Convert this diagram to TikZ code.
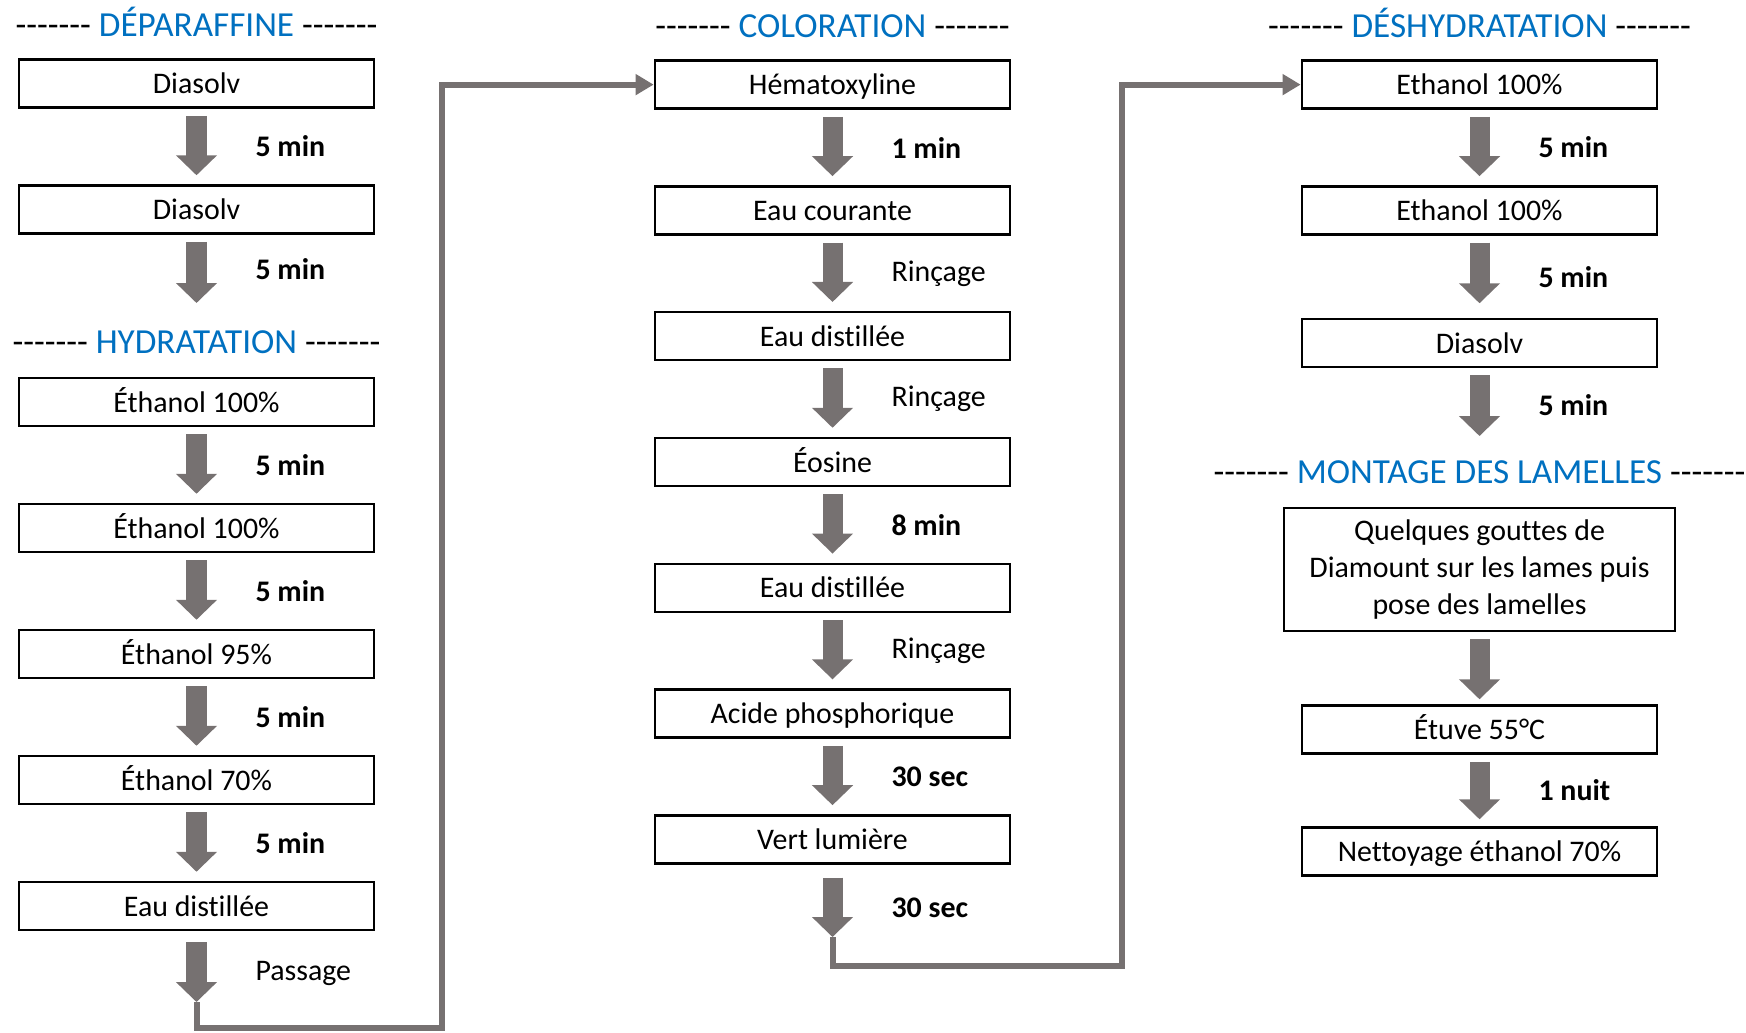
\documentclass[tikz,border=0pt]{standalone}
\usepackage{fontspec}
\setmainfont{Carlito}[Ligatures={TeX,NoCommon}]
\usepackage{xcolor}
\usetikzlibrary{arrows.meta, positioning, calc}
\definecolor{titleblue}{RGB}{0,112,192}
\definecolor{arrowgray}{RGB}{118,113,113}
\newcommand{\dashes}{-{}-{}-{}-{}-{}-{}-}

\begin{document}
\begin{tikzpicture}[x=0.01cm, y=-0.01cm,
    cell/.style={draw=black, line width=0.7pt, minimum width=3.55cm, minimum height=0.48cm,
      inner sep=0pt, font=\fontsize{8.5pt}{10.5pt}\selectfont},
    stepbox/.style={cell, text height=7pt, text depth=1.3pt},
    stage/.style={anchor=base, inner sep=0pt, font=\fontsize{10pt}{12pt}\selectfont},
    flow/.style={arrowgray, line width=0.2cm, -{Triangle[width=0.4cm, length=0.2cm]},
      shorten <=0.07cm, shorten >=0.09cm},
    link/.style={arrowgray, line width=0.06cm, -{Triangle[width=0.2cm, length=0.18cm]}},
    note/.style={anchor=west, xshift=0.59cm, inner sep=0pt, outer sep=0pt, text=black,
      font=\fontsize{8.5pt}{10.5pt}\selectfont},
    dur/.style={note, font=\fontsize{8.5pt}{10.5pt}\selectfont\bfseries}]
  \useasboundingbox (0,0) rectangle (1746,1032);

  % deparaffinage + hydratation
  \node[stage] (t1) at (196.5,36) {\dashes\ {\color{titleblue}DÉPARAFFINE} \dashes};
  \node[stepbox] (d1) at (196.5,83.5) {Diasolv};
  \node[stepbox] (d2) at (196.5,209.5) {Diasolv};
  \coordinate (d3) at (196.5,303);
  \node[stage] (t2) at (196.5,353) {\dashes\ {\color{titleblue}HYDRATATION} \dashes};
  \node[stepbox] (h1) at (196.5,402) {Éthanol 100\%};
  \node[stepbox] (h2) at (196.5,528) {Éthanol 100\%};
  \node[stepbox] (h3) at (196.5,654) {Éthanol 95\%};
  \node[stepbox] (h4) at (196.5,780) {Éthanol 70\%};
  \node[stepbox] (h5) at (196.5,906) {Eau distillée};
  \coordinate (h6) at (196.5,1002);

  \draw[flow] (d1.south) -- (d2.north) node[midway, dur] {5 min};
  \draw[flow, shorten >=0pt] (d2.south) -- (d3) node[midway, dur] {5 min};
  \draw[flow] (h1.south) -- (h2.north) node[midway, dur] {5 min};
  \draw[flow] (h2.south) -- (h3.north) node[midway, dur] {5 min};
  \draw[flow] (h3.south) -- (h4.north) node[midway, dur] {5 min};
  \draw[flow] (h4.south) -- (h5.north) node[midway, dur] {5 min};
  \draw[flow, shorten <=0.11cm, shorten >=0pt] (h5.south) -- (h6) node[pos=0.6, note] {Passage};

  % coloration
  \node[stage] (t3) at (832.5,37) {\dashes\ {\color{titleblue}COLORATION} \dashes};
  \node[stepbox] (c1) at (832.5,84.6) {Hématoxyline};
  \node[stepbox] (c2) at (832.5,210.4) {Eau courante};
  \node[stepbox] (c3) at (832.5,336.2) {Eau distillée};
  \node[stepbox] (c4) at (832.5,462) {Éosine};
  \node[stepbox] (c5) at (832.5,587.8) {Eau distillée};
  \node[stepbox] (c6) at (832.5,713.6) {Acide phosphorique};
  \node[stepbox] (c7) at (832.5,839.4) {Vert lumière};
  \coordinate (c8) at (832.5,937);

  \draw[flow] (c1.south) -- (c2.north) node[midway, dur] {1 min};
  \draw[flow] (c2.south) -- (c3.north) node[midway, note] {Rinçage};
  \draw[flow] (c3.south) -- (c4.north) node[midway, note] {Rinçage};
  \draw[flow] (c4.south) -- (c5.north) node[midway, dur] {8 min};
  \draw[flow] (c5.south) -- (c6.north) node[midway, note] {Rinçage};
  \draw[flow] (c6.south) -- (c7.north) node[midway, dur] {30 sec};
  \draw[flow, shorten <=0.13cm, shorten >=0pt] (c7.south) -- (c8) node[pos=0.6, dur] {30 sec};

  % deshydratation + montage
  \node[stage] (t4) at (1479.5,37) {\dashes\ {\color{titleblue}DÉSHYDRATATION} \dashes};
  \node[stepbox] (e1) at (1479.5,84.6) {Ethanol 100\%};
  \node[stepbox] (e2) at (1479.5,210.4) {Ethanol 100\%};
  \node[stepbox] (e3) at (1479.5,343) {Diasolv};
  \coordinate (e4) at (1479.5,436);
  \node[stage] (t5) at (1479.5,483) {\dashes\ {\color{titleblue}MONTAGE DES LAMELLES} \dashes};
  \node[cell, minimum width=3.91cm, minimum height=1.23cm, align=center] (m1) at (1479.5,569.5)
    {Quelques gouttes de\\Diamount sur les lames puis\\pose des lamelles};
  \node[stepbox] (m2) at (1479.5,729.5) {Étuve 55°C};
  \node[stepbox] (m3) at (1479.5,851.5) {Nettoyage éthanol 70\%};

  \draw[flow] (e1.south) -- (e2.north) node[midway, dur] {5 min};
  \draw[flow, shorten >=0.145cm] (e2.south) -- (e3.north) node[midway, dur] {5 min};
  \draw[flow, shorten >=0pt] (e3.south) -- (e4) node[pos=0.55, dur] {5 min};
  \draw[flow, shorten >=0.05cm] (m1.south) -- (m2.north);
  \draw[flow, shorten >=0.07cm] (m2.south) -- (m3.north) node[midway, dur] {1 nuit};

  % passages entre colonnes
  \coordinate (k1) at (442,1028);
  \coordinate (k2) at (1122,966);
  \draw[link] (h6) |- (k1) |- (c1.west);
  \draw[link] (c8) |- (k2) |- (e1.west);
\end{tikzpicture}
\end{document}
